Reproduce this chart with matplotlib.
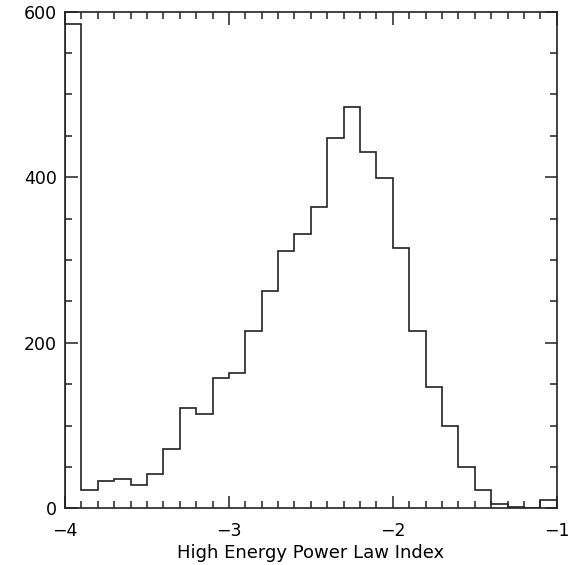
import numpy as np
import matplotlib
matplotlib.use("Agg")
import matplotlib.pyplot as plt
from matplotlib.ticker import MultipleLocator
from matplotlib.transforms import ScaledTranslation

# Histogram counts per 0.1-wide bin from -4.0 to -1.0
counts = [585, 22, 33, 36, 28, 42, 72, 121, 114, 157,
          164, 214, 262, 311, 331, 364, 447, 485, 431, 399,
          314, 214, 146, 100, 50, 22, 5, 2, 0, 10]
bin_start, bin_stop = -4.0, -1.0
xlabel = "High Energy Power Law Index"

edges = np.linspace(bin_start, bin_stop, len(counts) + 1)

fig = plt.figure(figsize=(5.75, 5.65), dpi=100)
ax = fig.add_axes([65/575, 1 - 508.3/565, (556.7 - 65)/575, (508.3 - 11.7)/565])

ax.stairs(counts, edges, color="#222222", linewidth=1.2)

ax.set_xlim(-4, -1)
ax.set_ylim(0, 600)
ax.xaxis.set_major_locator(MultipleLocator(1))
ax.xaxis.set_minor_locator(MultipleLocator(0.1))
ax.yaxis.set_major_locator(MultipleLocator(200))
ax.yaxis.set_minor_locator(MultipleLocator(50))

ax.tick_params(which="both", direction="in", top=True, right=True, color="#222222", width=1.1)
ax.tick_params(which="major", length=9)
ax.tick_params(which="minor", length=5)
ax.tick_params(axis="x", which="major", pad=10, labelsize=12.5)
ax.tick_params(axis="y", which="major", pad=6, labelsize=12.5)

for s in ax.spines.values():
    s.set_linewidth(1.2)
    s.set_color("#222222")

ax.set_xlabel(xlabel, fontsize=13, labelpad=3)

fig.canvas.draw()
ylabels = ax.get_yticklabels()
# IDL-style: bottom label nudged up, top label nudged down
ylabels[0].set_transform(ylabels[0].get_transform() + ScaledTranslation(0, 4/100, fig.dpi_scale_trans))
ylabels[-1].set_transform(ylabels[-1].get_transform() + ScaledTranslation(0, -5/100, fig.dpi_scale_trans))

fig.savefig("out.png", dpi=100)
